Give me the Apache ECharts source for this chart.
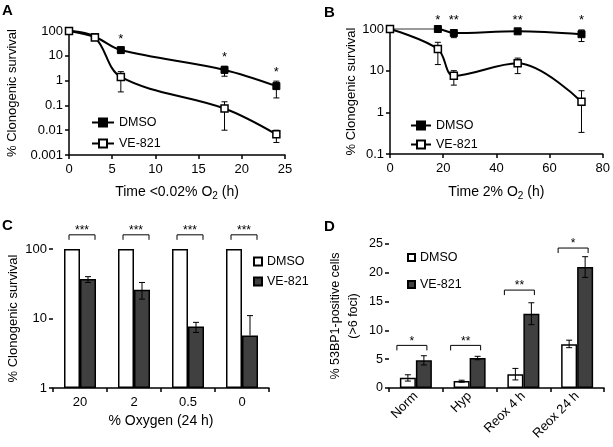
<!DOCTYPE html>
<html>
<head>
<meta charset="utf-8">
<script src="https://cdn.jsdelivr.net/npm/echarts@6/dist/echarts.min.js"></script>
<style>
html, body { margin: 0; padding: 0; background: #fff; }
#chart { width: 613px; height: 447px; }
</style>
</head>
<body>
<div id="chart"></div>
<script>
// panel A: survival at <0.02% O2
const timeA = [0, 3, 6, 18, 24];
const dmsoA = [100, 57, 17, 2.7, 0.6];
const dmsoALow = [null, null, 13, 1.5, 0.2];
const dmsoAHigh = [null, null, 20, 3.8, 0.95];
const veA = [100, 55, 1.4, 0.075, 0.0068];
const veALow = [null, null, 0.35, 0.01, 0.0032];
const veAHigh = [null, null, 2.3, 0.14, 0.01];
const starsA = ['', '', '*', '*', '*'];

// panel B: survival at 2% O2
const timeB = [0, 18, 24, 48, 72];
const dmsoB = [100, 100, 80, 88, 75];
const dmsoBLow = [null, null, 62, 80, 50];
const dmsoBHigh = [null, null, 95, 95, 95];
const veB = [100, 33, 7.5, 15, 1.8];
const veBLow = [null, 14, 4.5, 8.5, 0.33];
const veBHigh = [null, 48, 10, 20, 3.3];
const starsB = ['', '*', '**', '**', '*'];

// panel C: survival vs oxygen
const oxygenCats = ['20', '2', '0.5', '0'];
const dmsoC = [100, 100, 100, 100];
const veC = [37, 26, 7.7, 5.7];
const veCLow = [33, 19, 6.3, null];
const veCHigh = [40, 33, 8.8, 11];
const sigC = ['***', '***', '***', '***'];
const sigCLevel = [160, 160, 160, 160];

// panel D: 53BP1 foci
const fociCats = ['Norm', 'Hyp', 'Reox 4 h', 'Reox 24 h'];
const dmsoD = [1.8, 1.2, 2.4, 7.6];
const dmsoDLow = [1.2, 1.0, 1.4, 7.0];
const dmsoDHigh = [2.3, 1.35, 3.4, 8.3];
const veD = [4.8, 5.2, 12.9, 21];
const veDLow = [4.0, 4.9, 11.0, 19.2];
const veDHigh = [5.6, 5.5, 14.8, 22.8];
const sigD = ['*', '**', '**', '*'];
const sigDLevel = [7.4, 7.4, 17, 24.3];

const FONT = 'Liberation Sans, Arial, sans-serif';
const chart = echarts.init(document.getElementById('chart'));

function errData(xs, mean, lo, hi) {
  const out = [];
  xs.forEach((x, i) => {
    if (hi[i] != null) out.push([x, mean[i], lo[i] == null ? mean[i] : lo[i], hi[i]]);
  });
  return out;
}

function errRender(offset, cap) {
  return function (params, api) {
    const x = api.value(0);
    const pm = api.coord([x, api.value(1)]);
    const pl = api.coord([x, api.value(2)]);
    const ph = api.coord([x, api.value(3)]);
    const cx = pm[0] + offset;
    const st = { stroke: '#000', lineWidth: 1 };
    const kids = [
      { type: 'line', shape: { x1: cx, y1: pl[1], x2: cx, y2: ph[1] }, style: st },
      { type: 'line', shape: { x1: cx - cap, y1: ph[1], x2: cx + cap, y2: ph[1] }, style: st }
    ];
    if (api.value(2) !== api.value(1)) {
      kids.push({ type: 'line', shape: { x1: cx - cap, y1: pl[1], x2: cx + cap, y2: pl[1] }, style: st });
    }
    return { type: 'group', children: kids };
  };
}

function starRender(labels, dy) {
  return function (params, api) {
    const p = api.coord([api.value(0), api.value(1)]);
    return {
      type: 'text',
      style: { x: p[0], y: p[1] + dy, text: labels[params.dataIndex], align: 'center',
        verticalAlign: 'bottom', font: '13px ' + FONT, fill: '#000' }
    };
  };
}

function sigRender(labels, left, right) {
  return function (params, api) {
    const p = api.coord([api.value(0), api.value(1)]);
    const x1 = p[0] + left, x2 = p[0] + right, y = p[1];
    return {
      type: 'group',
      children: [
        { type: 'polyline', shape: { points: [[x1, y + 5], [x1, y], [x2, y], [x2, y + 5]] },
          style: { stroke: '#000', fill: null, lineWidth: 1 } },
        { type: 'text', style: { x: (x1 + x2) / 2, y: y + 2, text: labels[params.dataIndex],
          align: 'center', verticalAlign: 'bottom', font: '12px ' + FONT, fill: '#000' } }
      ]
    };
  };
}

const axisLine = { lineStyle: { color: '#000', width: 1.5 } };
const axisTick = { show: true, inside: false, length: 4, lineStyle: { color: '#000', width: 1.5 } };
const nameStyle = {
  fontSize: 14, color: '#000', fontFamily: FONT,
  rich: { sub: { fontSize: 10, color: '#000', fontFamily: FONT, padding: [7, 0, 0, 0] } }
};
const yNameStyle = { fontSize: 13, color: '#000', fontFamily: FONT };
function lbl(size) {
  return { color: '#000', fontSize: size, fontFamily: FONT, margin: 6 };
}
const strip = name => name.replace(/_.*/, '');

const lineDefaults = {
  type: 'line', symbol: 'rect', symbolSize: 7, smooth: 0.35,
  lineStyle: { color: '#000', width: 2 }, z: 3
};
const filled = { color: '#000', borderColor: '#000', borderWidth: 1 };
const hollow = { color: '#fff', borderColor: '#000', borderWidth: 1.5 };

chart.setOption({
  animation: false,
  backgroundColor: '#fff',
  textStyle: { fontFamily: FONT },
  graphic: [
    { type: 'text', left: 2, top: 3, style: { text: 'A', font: 'bold 15px ' + FONT, fill: '#000' } },
    { type: 'text', left: 324, top: 5, style: { text: 'B', font: 'bold 15px ' + FONT, fill: '#000' } },
    { type: 'text', left: 2, top: 218, style: { text: 'C', font: 'bold 15px ' + FONT, fill: '#000' } },
    { type: 'text', left: 324, top: 219, style: { text: 'D', font: 'bold 15px ' + FONT, fill: '#000' } }
  ],
  grid: [
    { left: 69, top: 31, width: 216, height: 124 },
    { left: 390, top: 29, width: 213, height: 125 },
    { left: 53, top: 249, width: 216, height: 139 },
    { left: 389, top: 244, width: 215, height: 144 }
  ],
  legend: [
    { left: 86, top: 111, orient: 'vertical', itemGap: 8, itemWidth: 22, itemHeight: 10,
      data: ['DMSO_A', 'VE-821_A'], formatter: strip, textStyle: { fontSize: 12.5, color: '#000' } },
    { left: 405, top: 114, orient: 'vertical', itemGap: 6, itemWidth: 20, itemHeight: 10,
      data: ['DMSO_B', 'VE-821_B'], formatter: strip, textStyle: { fontSize: 12.5, color: '#000' } },
    { left: 248, top: 250, orient: 'vertical', itemGap: 7, itemWidth: 8, itemHeight: 8, icon: 'rect',
      data: ['DMSO_C', 'VE-821_C'], formatter: strip, textStyle: { fontSize: 12.5, color: '#000' } },
    { left: 402, top: 246, orient: 'vertical', itemGap: 14, itemWidth: 7, itemHeight: 7, icon: 'rect',
      data: ['DMSO_D', 'VE-821_D'], formatter: strip, textStyle: { fontSize: 12.5, color: '#000' } }
  ],
  xAxis: [
    { gridIndex: 0, type: 'value', min: 0, max: 25, interval: 5, splitLine: { show: false },
      axisLine, axisTick, axisLabel: Object.assign(lbl(13), { margin: 8 }),
      name: 'Time <0.02% O{sub|2} (h)', nameLocation: 'middle', nameGap: 29, nameTextStyle: nameStyle },
    { gridIndex: 1, type: 'value', min: 0, max: 80, interval: 20, splitLine: { show: false },
      axisLine, axisTick, axisLabel: Object.assign(lbl(13), { margin: 8 }),
      name: 'Time 2% O{sub|2} (h)', nameLocation: 'middle', nameGap: 30, nameTextStyle: nameStyle },
    { gridIndex: 2, type: 'category', data: oxygenCats, splitLine: { show: false },
      axisLine, axisTick, axisLabel: Object.assign(lbl(13), { margin: 8 }),
      name: '% Oxygen (24 h)', nameLocation: 'middle', nameGap: 26, nameTextStyle: nameStyle },
    { gridIndex: 3, type: 'category', data: fociCats, splitLine: { show: false },
      axisLine, axisTick, axisLabel: Object.assign(lbl(13), { rotate: 45, interval: 0, margin: 6 }) }
  ],
  yAxis: [
    { gridIndex: 0, type: 'log', logBase: 10, min: 0.001, max: 100, splitLine: { show: false },
      axisLine, axisTick, axisLabel: lbl(13),
      name: '% Clonogenic survival', nameLocation: 'middle', nameGap: 50, nameTextStyle: yNameStyle },
    { gridIndex: 1, type: 'log', logBase: 10, min: 0.1, max: 100, splitLine: { show: false },
      axisLine, axisTick, axisLabel: lbl(13),
      name: '% Clonogenic survival', nameLocation: 'middle', nameGap: 30, nameTextStyle: yNameStyle },
    { gridIndex: 2, type: 'log', logBase: 10, min: 1, max: 100, splitLine: { show: false },
      axisLine, axisTick, axisLabel: lbl(13),
      name: '% Clonogenic survival', nameLocation: 'middle', nameGap: 33, nameTextStyle: yNameStyle },
    { gridIndex: 3, type: 'value', min: 0, max: 25, interval: 5, splitLine: { show: false },
      axisLine, axisTick, axisLabel: lbl(12.5),
      name: '% 53BP1-positive cells\n(>6 foci)', nameLocation: 'middle', nameGap: 26,
      nameTextStyle: { fontSize: 12.5, color: '#000', fontFamily: FONT, lineHeight: 18 } }
  ],
  visualMap: [
    { type: 'piecewise', show: false, seriesIndex: 5, dimension: 0,
      pieces: [{ gte: 0, lt: 18, color: '#999' }, { gte: 18, lte: 80, color: '#000' }] }
  ],
  series: [
    // A (0-4)
    Object.assign({}, lineDefaults, { name: 'DMSO_A', xAxisIndex: 0, yAxisIndex: 0,
      data: timeA.map((t, i) => [t, dmsoA[i]]), itemStyle: filled }),
    Object.assign({}, lineDefaults, { name: 'VE-821_A', xAxisIndex: 0, yAxisIndex: 0, z: 4,
      data: timeA.map((t, i) => [t, veA[i]]), itemStyle: hollow }),
    { type: 'custom', xAxisIndex: 0, yAxisIndex: 0, z: 2, renderItem: errRender(0, 3),
      data: errData(timeA, dmsoA, dmsoALow, dmsoAHigh) },
    { type: 'custom', xAxisIndex: 0, yAxisIndex: 0, z: 2, renderItem: errRender(0, 3),
      data: errData(timeA, veA, veALow, veAHigh) },
    { type: 'custom', xAxisIndex: 0, yAxisIndex: 0, z: 2, renderItem: starRender(starsA, -2),
      data: timeA.map((t, i) => [t, dmsoAHigh[i] == null ? dmsoA[i] : dmsoAHigh[i]]) },
    // B (5-9)
    Object.assign({}, lineDefaults, { name: 'DMSO_B', xAxisIndex: 1, yAxisIndex: 1,
      lineStyle: { width: 2 }, data: timeB.map((t, i) => [t, dmsoB[i]]), itemStyle: filled }),
    Object.assign({}, lineDefaults, { name: 'VE-821_B', xAxisIndex: 1, yAxisIndex: 1, z: 4,
      data: timeB.map((t, i) => [t, veB[i]]), itemStyle: hollow }),
    { type: 'custom', xAxisIndex: 1, yAxisIndex: 1, z: 2, renderItem: errRender(0, 3),
      data: errData(timeB, dmsoB, dmsoBLow, dmsoBHigh) },
    { type: 'custom', xAxisIndex: 1, yAxisIndex: 1, z: 2, renderItem: errRender(0, 3),
      data: errData(timeB, veB, veBLow, veBHigh) },
    { type: 'custom', xAxisIndex: 1, yAxisIndex: 1, z: 2, renderItem: starRender(starsB, 0),
      data: timeB.map(t => [t, 110]) },
    // C (10-13)
    { type: 'bar', name: 'DMSO_C', xAxisIndex: 2, yAxisIndex: 2, data: dmsoC, barWidth: 16, barGap: '0%',
      itemStyle: { color: '#fff', borderColor: '#000', borderWidth: 1.5 } },
    { type: 'bar', name: 'VE-821_C', xAxisIndex: 2, yAxisIndex: 2, data: veC, barWidth: 16, barGap: '0%',
      itemStyle: { color: '#404040', borderColor: '#000', borderWidth: 1.5 } },
    { type: 'custom', xAxisIndex: 2, yAxisIndex: 2, z: 3, renderItem: errRender(8, 3),
      data: errData(oxygenCats.map((c, i) => i), veC, veCLow, veCHigh) },
    { type: 'custom', xAxisIndex: 2, yAxisIndex: 2, z: 3, renderItem: sigRender(sigC, -11, 15),
      data: oxygenCats.map((c, i) => [i, sigCLevel[i]]) },
    // D (14-18)
    { type: 'bar', name: 'DMSO_D', xAxisIndex: 3, yAxisIndex: 3, data: dmsoD, barWidth: 16, barGap: '0%',
      itemStyle: { color: '#fff', borderColor: '#000', borderWidth: 1.5 } },
    { type: 'bar', name: 'VE-821_D', xAxisIndex: 3, yAxisIndex: 3, data: veD, barWidth: 16, barGap: '0%',
      itemStyle: { color: '#404040', borderColor: '#000', borderWidth: 1.5 } },
    { type: 'custom', xAxisIndex: 3, yAxisIndex: 3, z: 3, renderItem: errRender(-8, 3),
      data: errData(fociCats.map((c, i) => i), dmsoD, dmsoDLow, dmsoDHigh) },
    { type: 'custom', xAxisIndex: 3, yAxisIndex: 3, z: 3, renderItem: errRender(8, 3),
      data: errData(fociCats.map((c, i) => i), veD, veDLow, veDHigh) },
    { type: 'custom', xAxisIndex: 3, yAxisIndex: 3, z: 3, renderItem: sigRender(sigD, -19, 11),
      data: fociCats.map((c, i) => [i, sigDLevel[i]]) }
  ]
});
</script>
</body>
</html>
